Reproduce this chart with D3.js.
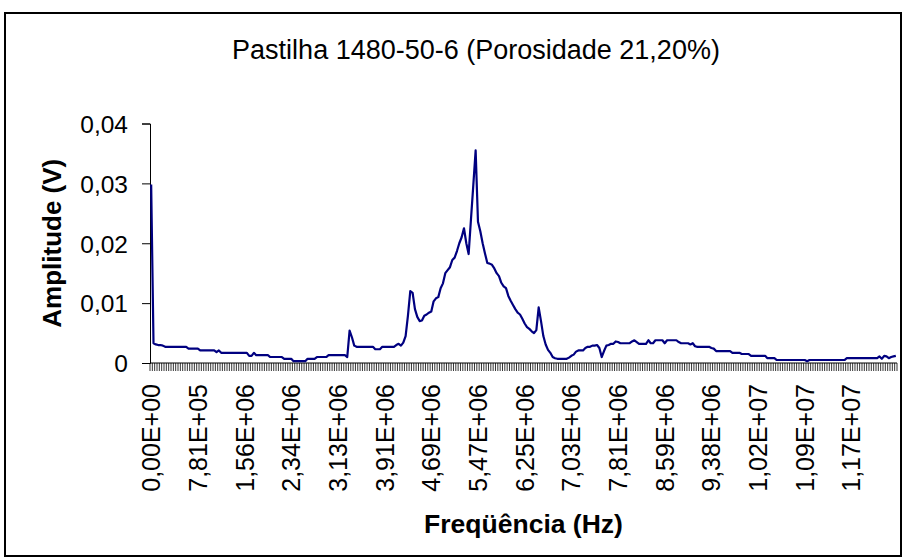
<!DOCTYPE html>
<html>
<head>
<meta charset="utf-8">
<script src="https://cdnjs.cloudflare.com/ajax/libs/d3/7.8.5/d3.min.js"></script>
<style>
  body { margin: 0; background: #fff; }
  text { font-family: "Liberation Sans", Arial, sans-serif; fill: #000; }
</style>
</head>
<body>
<div id="chart"></div>
<script>
// amplitude (V) per frequency bin (320 bins)
let amplitude = [
  0.0298, 0.0033, 0.0031, 0.0030, 0.0030, 0.0029, 0.0027, 0.0027, 0.0027, 0.0027,
  0.0027, 0.0027, 0.0027, 0.0027, 0.0027, 0.0027, 0.0024, 0.0024, 0.0024, 0.0024,
  0.0024, 0.0021, 0.0021, 0.0021, 0.0021, 0.0021, 0.0021, 0.0021, 0.0018, 0.0021,
  0.0017, 0.0017, 0.0017, 0.0017, 0.0017, 0.0017, 0.0017, 0.0017, 0.0017, 0.0017,
  0.0017, 0.0017, 0.0012, 0.0012, 0.0017, 0.0013, 0.0013, 0.0013, 0.0013, 0.0013,
  0.0013, 0.0010, 0.0010, 0.0010, 0.0010, 0.0010, 0.0010, 0.0007, 0.0007, 0.0007,
  0.0007, 0.0003, 0.0003, 0.0003, 0.0003, 0.0003, 0.0003, 0.0007, 0.0007, 0.0007,
  0.0007, 0.0010, 0.0010, 0.0010, 0.0010, 0.0010, 0.0013, 0.0013, 0.0013, 0.0013,
  0.0013, 0.0013, 0.0013, 0.0013, 0.0010, 0.0054, 0.0043, 0.0029, 0.0027, 0.0027,
  0.0027, 0.0027, 0.0027, 0.0027, 0.0027, 0.0027, 0.0023, 0.0023, 0.0023, 0.0027,
  0.0027, 0.0027, 0.0027, 0.0027, 0.0027, 0.0030, 0.0032, 0.0029, 0.0034, 0.0045,
  0.0079, 0.0120, 0.0117, 0.0090, 0.0077, 0.0070, 0.0071, 0.0079, 0.0081, 0.0084,
  0.0086, 0.0103, 0.0108, 0.0110, 0.0125, 0.0133, 0.0150, 0.0155, 0.0160, 0.0172,
  0.0176, 0.0187, 0.0200, 0.0210, 0.0225, 0.0200, 0.0182, 0.0240, 0.0297, 0.0355,
  0.0236, 0.0220, 0.0200, 0.0183, 0.0167, 0.0166, 0.0164, 0.0158, 0.0150, 0.0145,
  0.0134, 0.0128, 0.0125, 0.0112, 0.0104, 0.0097, 0.0090, 0.0084, 0.0081, 0.0074,
  0.0066, 0.0060, 0.0057, 0.0053, 0.0050, 0.0055, 0.0093, 0.0070, 0.0045, 0.0031,
  0.0022, 0.0017, 0.0010, 0.0008, 0.0007, 0.0007, 0.0007, 0.0007, 0.0007, 0.0009,
  0.0012, 0.0014, 0.0019, 0.0021, 0.0021, 0.0021, 0.0025, 0.0027, 0.0027, 0.0029,
  0.0029, 0.0030, 0.0025, 0.0010, 0.0020, 0.0029, 0.0030, 0.0032, 0.0032, 0.0036,
  0.0035, 0.0033, 0.0033, 0.0033, 0.0033, 0.0033, 0.0036, 0.0038, 0.0035, 0.0032,
  0.0032, 0.0032, 0.0032, 0.0038, 0.0033, 0.0033, 0.0038, 0.0038, 0.0038, 0.0038,
  0.0033, 0.0038, 0.0038, 0.0038, 0.0038, 0.0038, 0.0035, 0.0033, 0.0033, 0.0033,
  0.0033, 0.0031, 0.0033, 0.0028, 0.0027, 0.0027, 0.0027, 0.0027, 0.0027, 0.0027,
  0.0025, 0.0024, 0.0020, 0.0020, 0.0020, 0.0020, 0.0020, 0.0020, 0.0020, 0.0017,
  0.0017, 0.0017, 0.0017, 0.0015, 0.0015, 0.0015, 0.0015, 0.0012, 0.0012, 0.0012,
  0.0012, 0.0012, 0.0012, 0.0012, 0.0008, 0.0008, 0.0008, 0.0008, 0.0005, 0.0005,
  0.0005, 0.0005, 0.0005, 0.0005, 0.0005, 0.0005, 0.0005, 0.0005, 0.0005, 0.0005,
  0.0005, 0.0003, 0.0005, 0.0005, 0.0005, 0.0005, 0.0005, 0.0005, 0.0005, 0.0005,
  0.0005, 0.0005, 0.0005, 0.0005, 0.0005, 0.0005, 0.0005, 0.0005, 0.0008, 0.0008,
  0.0008, 0.0008, 0.0008, 0.0008, 0.0008, 0.0008, 0.0008, 0.0008, 0.0008, 0.0008,
  0.0008, 0.0008, 0.0011, 0.0007, 0.0012, 0.0011, 0.0008, 0.0010, 0.0011, 0.0012
];

// one category label every 20 bins
let labelEvery = 20;
let freqLabels = [
  "0,00E+00", "7,81E+05", "1,56E+06", "2,34E+06", "3,13E+06", "3,91E+06",
  "4,69E+06", "5,47E+06", "6,25E+06", "7,03E+06", "7,81E+06", "8,59E+06",
  "9,38E+06", "1,02E+07", "1,09E+07", "1,17E+07"
];

let yTicks = [0, 0.01, 0.02, 0.03, 0.04];
let yTickLabels = ["0", "0,01", "0,02", "0,03", "0,04"];

let title = "Pastilha 1480-50-6 (Porosidade 21,20%)";
let xTitle = "Freqüência (Hz)";
let yTitle = "Amplitude (V)";

let width = 905, height = 558;
let plot = { left: 150, right: 897, top: 123.5, bottom: 363 };

let svg = d3.select("#chart")
  .append("svg")
  .attr("width", width)
  .attr("height", height);

// outer chart frame
svg.append("rect")
  .attr("x", 5)
  .attr("y", 13)
  .attr("width", 896)
  .attr("height", 543)
  .attr("fill", "none")
  .attr("stroke", "#000")
  .attr("stroke-width", 2);

let x = d3.scaleBand()
  .domain(d3.range(amplitude.length))
  .range([plot.left, plot.right])
  .padding(0);

let y = d3.scaleLinear()
  .domain([0, 0.04])
  .range([plot.bottom, plot.top]);

// y axis
let yAxis = d3.axisLeft(y)
  .tickValues(yTicks)
  .tickSize(8)
  .tickPadding(14)
  .tickFormat(function(d, i) { return yTickLabels[i]; });

let gy = svg.append("g")
  .attr("transform", "translate(" + plot.left + ",0)")
  .call(yAxis);
gy.selectAll("text")
  .style("font-size", "24.5px")
  .attr("dy", "0.36em");
gy.selectAll("line, path").attr("stroke", "#000");

// x axis: a tick on every category boundary, label every 20th category
let boundaries = d3.range(amplitude.length + 1).map(function(i) {
  return plot.left + i * x.bandwidth();
});

svg.append("line")
  .attr("x1", plot.left)
  .attr("x2", plot.right)
  .attr("y1", plot.bottom)
  .attr("y2", plot.bottom)
  .attr("stroke", "#000");

svg.append("g")
  .selectAll("line")
  .data(boundaries)
  .enter().append("line")
  .attr("x1", function(d) { return d; })
  .attr("x2", function(d) { return d; })
  .attr("y1", plot.bottom)
  .attr("y2", plot.bottom + 8)
  .attr("stroke", "#000")
  .attr("stroke-width", 0.8);

svg.append("g")
  .selectAll("text")
  .data(freqLabels)
  .enter().append("text")
  .attr("transform", function(d, i) {
    let cx = x(i * labelEvery) + x.bandwidth() / 2;
    return "translate(" + cx + "," + (plot.bottom + 21) + ") rotate(-90)";
  })
  .attr("text-anchor", "end")
  .attr("dy", "0.36em")
  .style("font-size", "25px")
  .text(function(d) { return d; });

// the series
let line = d3.line()
  .x(function(d, i) { return x(i) + x.bandwidth() / 2; })
  .y(function(d) { return y(d); });

svg.append("path")
  .datum(amplitude)
  .attr("d", line)
  .attr("fill", "none")
  .attr("stroke", "#000080")
  .attr("stroke-width", 2.2)
  .attr("stroke-linejoin", "round");

// titles
svg.append("text")
  .attr("x", 476)
  .attr("y", 59)
  .attr("text-anchor", "middle")
  .style("font-size", "27px")
  .text(title);

svg.append("text")
  .attr("x", (plot.left + plot.right) / 2)
  .attr("y", 533)
  .attr("text-anchor", "middle")
  .style("font-size", "26.5px")
  .style("font-weight", "bold")
  .text(xTitle);

svg.append("text")
  .attr("transform", "translate(61," + ((plot.top + plot.bottom) / 2) + ") rotate(-90)")
  .attr("text-anchor", "middle")
  .style("font-size", "26px")
  .style("font-weight", "bold")
  .text(yTitle);
</script>
</body>
</html>
